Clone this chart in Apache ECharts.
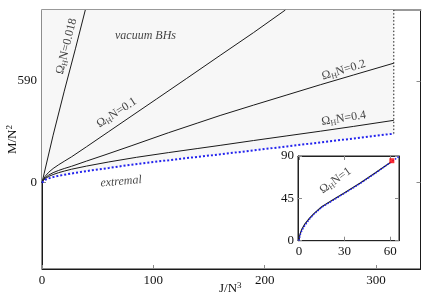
<!DOCTYPE html>
<html><head><meta charset="utf-8">
<script src="https://cdn.jsdelivr.net/npm/echarts@6/dist/echarts.min.js"></script>
<style>html,body{margin:0;padding:0;background:#fff}#c{width:436px;height:305px}</style>
</head><body><div id="c"></div>
<script>
// ---- data ----
const xTicks = [0, 100, 200, 300];
const yTicks = [0, 590];
const insetXTicks = [0, 30, 60];
const insetYTicks = [0, 45, 90];

const omega0018J = [0, 2, 10, 20, 30, 38.9];
const omega0018M = [0, 55, 275, 530, 775, 1000];

const omega01J = [0, 1, 3, 6, 10, 15, 20, 26.6, 40, 60, 80, 103, 130, 160, 190, 218.6];
const omega01M = [0, 18, 38, 60, 82, 104, 124, 150, 208, 296, 384, 485, 604, 737, 869, 1000];

const omega02J = [0, 1, 3, 6, 10, 15, 20, 26.6, 40, 56.6, 80, 113.5, 140, 160, 190, 220, 250, 280, 316];
const omega02M = [0, 14, 29, 44, 58, 71, 82, 95, 125, 161, 213, 289, 346, 389, 449, 508, 567, 624, 692];

const omega04J = [0, 1, 3, 6, 10, 15, 20, 26.6, 40, 60, 85, 113.5, 140, 160, 190, 220, 250, 280, 316];
const omega04M = [0, 12, 24, 36, 47, 58, 67, 78, 96, 120, 147, 174, 198, 216, 244, 271, 298, 326, 361];

const extremalJ = [0, 1, 3, 6, 10, 15, 22, 30, 45, 60, 80, 100, 114, 135, 160, 190, 220, 250, 280, 316];
const extremalM = [0, 8, 17, 25, 32, 40, 48, 57, 72, 85, 104, 120, 130, 146, 164, 187, 210, 233, 256, 284];

const jMaxLine = [316, 316];
const jMaxM = [284, 1000];

const insetOmega1J = [0, 0.3, 1, 2, 4, 7, 10, 15, 20, 24, 30, 40, 50, 60];
const insetOmega1M = [0, 4, 8, 12.5, 18, 24, 29, 36, 41, 45, 51, 61, 72, 83];
const insetExtJ = [0, 0.5, 1, 2, 4, 7, 10, 15, 20, 24, 30, 40, 50, 60, 65.7];
const insetExtM = [0, 3.5, 7, 11, 16.5, 23, 28.5, 35.5, 40.5, 44.5, 50.5, 60.5, 71.5, 83, 89.5];
const redPoint = [[61, 85]];

const zip = (a, b) => a.map((v, i) => [v, b[i]]);

const serif = 'Liberation Serif';
const omegaRich = {
  a: {fontSize: 12, fontFamily: serif, color: '#111', lineHeight: 14},
  s: {fontSize: 8, fontFamily: serif, color: '#111', lineHeight: 14, verticalAlign: 'bottom', padding: [7, 0, 0, 0]}
};
function omegaLabel(v) { return '{a|Ω}{s|H}{a|N=' + v + '}'; }

const chart = echarts.init(document.getElementById('c'), null, {renderer: 'canvas'});

const black = '#1a1a1a';
const gray = '#8a8a8a';

const shadePoly = zip(extremalJ, extremalM).concat([[316, 1000], [0, 1000]]);

function textPoint(x, y, text, rotate, rich, xi, yi, italic) {
  return {
    type: 'scatter', xAxisIndex: xi || 0, yAxisIndex: yi || 0, symbolSize: 0, silent: true, z: 10,
    data: [[x, y]],
    label: {show: true, position: 'inside', rotate: rotate, formatter: text, rich: rich,
      fontFamily: serif, fontSize: 12, color: '#111', fontStyle: italic ? 'italic' : 'normal'}
  };
}

const option = {
  animation: false,
  backgroundColor: '#fff',
  grid: [
    {left: 42, top: 10, width: 378.5, height: 259, show: true, borderColor: black, borderWidth: 1, backgroundColor: 'transparent'},
    {left: 298, top: 156, width: 101, height: 84.7, show: true, borderColor: '#222', borderWidth: 1, backgroundColor: '#fff', z: 5}
  ],
  xAxis: [
    {gridIndex: 0, type: 'value', min: 0, max: 340, interval: 100, position: 'bottom',
     axisLine: {show: true, onZero: false, lineStyle: {color: black, width: 1}},
     axisTick: {show: true, inside: true, length: 4, customValues: xTicks, lineStyle: {color: gray}},
     axisLabel: {customValues: xTicks, fontFamily: serif, fontSize: 13, color: '#111', margin: 5},
     splitLine: {show: false}},
    {gridIndex: 0, type: 'value', min: 0, max: 340, position: 'top',
     axisLine: {show: true, onZero: false, lineStyle: {color: '#999', width: 2}},
     axisTick: {show: false}, axisLabel: {show: false}, splitLine: {show: false}},
    {gridIndex: 1, type: 'value', min: -0.6, max: 65.7, position: 'bottom',
     axisLine: {show: true, onZero: false, lineStyle: {color: '#222'}},
     axisTick: {show: true, inside: true, length: 4, customValues: insetXTicks, lineStyle: {color: gray}},
     axisLabel: {customValues: insetXTicks, fontFamily: serif, fontSize: 13, color: '#111', margin: 4},
     splitLine: {show: false}, z: 6},
    {gridIndex: 1, type: 'value', min: -0.6, max: 65.7, position: 'top',
     axisLine: {show: true, onZero: false, lineStyle: {color: '#222'}},
     axisTick: {show: true, inside: true, length: 4, customValues: insetXTicks, lineStyle: {color: gray}},
     axisLabel: {show: false}, splitLine: {show: false}, z: 6}
  ],
  yAxis: [
    {gridIndex: 0, type: 'value', min: -500, max: 1000, position: 'left',
     axisLine: {show: true, onZero: false, lineStyle: {color: black}},
     axisTick: {show: true, inside: true, length: 4, customValues: yTicks, lineStyle: {color: gray}},
     axisLabel: {customValues: yTicks, fontFamily: serif, fontSize: 13, color: '#111', margin: 5},
     splitLine: {show: false}},
    {gridIndex: 0, type: 'value', min: -500, max: 1000, position: 'right',
     axisLine: {show: true, onZero: false, lineStyle: {color: black}},
     axisTick: {show: true, inside: true, length: 4, customValues: yTicks, lineStyle: {color: gray}},
     axisLabel: {show: false}, splitLine: {show: false}},
    {gridIndex: 1, type: 'value', min: 0, max: 90, position: 'left',
     axisLine: {show: true, onZero: false, lineStyle: {color: '#222'}},
     axisTick: {show: true, inside: true, length: 4, customValues: insetYTicks, lineStyle: {color: gray}},
     axisLabel: {customValues: insetYTicks, fontFamily: serif, fontSize: 13, color: '#111', margin: 4},
     splitLine: {show: false}, z: 6},
    {gridIndex: 1, type: 'value', min: 0, max: 90, position: 'right',
     axisLine: {show: true, onZero: false, lineStyle: {color: '#222'}},
     axisTick: {show: true, inside: true, length: 4, customValues: insetYTicks, lineStyle: {color: gray}},
     axisLabel: {show: false}, splitLine: {show: false}, z: 6}
  ],
  graphic: [
    {type: 'text', left: 5, top: 125, rotation: Math.PI / 2, z: 20,
     style: {text: '{m|M/N}{p|2}', rich: {m: {fontFamily: serif, fontSize: 13, fill: '#111', lineHeight: 16}, p: {fontFamily: serif, fontSize: 9, fill: '#111', lineHeight: 16, verticalAlign: 'top', padding: [0, 0, 6, 0]}}}},
    {type: 'text', left: 219, top: 281, z: 20,
     style: {text: '{m|J/N}{p|3}', rich: {m: {fontFamily: serif, fontSize: 13, fill: '#111', lineHeight: 16}, p: {fontFamily: serif, fontSize: 9, fill: '#111', lineHeight: 16, verticalAlign: 'top', padding: [0, 0, 6, 0]}}}}
  ],
  series: [
    {type: 'custom', xAxisIndex: 0, yAxisIndex: 0, z: 1, silent: true,
     data: [0],
     renderItem: function (params, api) {
       const pts = shadePoly.map(p => api.coord(p));
       return {type: 'polygon', shape: {points: pts}, style: {fill: '#f7f7f7', stroke: null}};
     }},
    {type: 'line', data: zip(omega0018J, omega0018M), showSymbol: false, lineStyle: {color: black, width: 1}, z: 3},
    {type: 'line', data: zip(omega01J, omega01M), showSymbol: false, lineStyle: {color: black, width: 1}, z: 3},
    {type: 'line', data: zip(omega02J, omega02M), showSymbol: false, lineStyle: {color: black, width: 1}, z: 3},
    {type: 'line', data: zip(omega04J, omega04M), showSymbol: false, lineStyle: {color: black, width: 1}, z: 3},
    {type: 'line', data: zip(jMaxLine, jMaxM), showSymbol: false, lineStyle: {color: black, width: 1, type: [1.5, 2]}, z: 3},
    {type: 'line', data: zip(extremalJ, extremalM), showSymbol: false, lineStyle: {color: '#2323ee', width: 2, type: [2, 2]}, z: 4},

    {type: 'line', xAxisIndex: 2, yAxisIndex: 2, data: zip(insetOmega1J, insetOmega1M), showSymbol: false, lineStyle: {color: black, width: 1.2}, z: 7},
    {type: 'line', xAxisIndex: 2, yAxisIndex: 2, data: zip(insetExtJ, insetExtM), showSymbol: false, lineStyle: {color: '#2323ee', width: 1.5, type: [1.5, 1.5]}, z: 8},
    {type: 'scatter', xAxisIndex: 2, yAxisIndex: 2, data: redPoint, symbol: 'rect', symbolSize: 5, itemStyle: {color: '#ff0000'}, z: 9},

    textPoint(22, 790, omegaLabel('0.018'), 76, omegaRich),
    textPoint(67, 405, omegaLabel('0.1'), 33, omegaRich),
    textPoint(271, 652, omegaLabel('0.2'), 17, omegaRich),
    textPoint(271, 372, omegaLabel('0.4'), 9, omegaRich),
    textPoint(93, 853, 'vacuum BHs', 0, null, 0, 0, true),
    textPoint(71, 6, 'extremal', 5, null, 0, 0, true),
    textPoint(24, 64, omegaLabel('1'), 36, omegaRich, 2, 2)
  ]
};
chart.setOption(option);
</script>
</body></html>
